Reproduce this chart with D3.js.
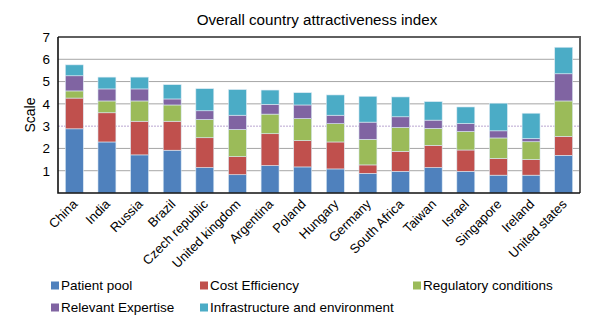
<!DOCTYPE html>
<html>
<head>
<meta charset="utf-8">
<script src="https://cdn.jsdelivr.net/npm/d3@7"></script>
<style>
  body { margin: 0; background: #fff; }
  text { font-family: "Liberation Sans", Arial, sans-serif; fill: #000; }
</style>
</head>
<body>
<div class="B"></div>
<script>
// data
var countries = ['China', 'India', 'Russia', 'Brazil', 'Czech republic', 'United kingdom', 'Argentina',
    'Poland', 'Hungary', 'Germany', 'South Africa', 'Taiwan', 'Israel', 'Singapore', 'Ireland', 'United states'];
var seriesNames = ['Patient pool', 'Cost Efficiency', 'Regulatory conditions', 'Relevant Expertise', 'Infrastructure and environment'];
var patientPool   = [2.88, 2.29, 1.71, 1.92, 1.14, 0.82, 1.23, 1.17, 1.08, 0.88, 0.97, 1.14, 0.97, 0.80, 0.80, 1.69];
var costEff       = [1.38, 1.31, 1.51, 1.30, 1.34, 0.81, 1.43, 1.18, 1.21, 0.38, 0.90, 1.00, 0.96, 0.75, 0.70, 0.85];
var regulatory    = [0.32, 0.53, 0.91, 0.73, 0.82, 1.22, 0.88, 0.99, 0.82, 1.15, 1.07, 0.76, 0.83, 0.92, 0.80, 1.59];
var expertise     = [0.68, 0.54, 0.54, 0.27, 0.39, 0.64, 0.44, 0.61, 0.38, 0.77, 0.48, 0.37, 0.36, 0.32, 0.14, 1.22];
var infra         = [0.49, 0.53, 0.53, 0.64, 0.99, 1.15, 0.64, 0.55, 0.91, 1.16, 0.89, 0.83, 0.74, 1.24, 1.14, 1.19];
var yTicks = [1, 2, 3, 4, 5, 6, 7];
var colors = ['#4F81BD', '#C0504D', '#9BBB59', '#8064A2', '#4BACC6'];

var width = 600, height = 325;
var plotL = 58, plotR = 580, plotT = 37, plotB = 193;

var svg = d3.select('.B').append('svg')
    .attr('width', width)
    .attr('height', height);

// 标题
svg.append('text')
    .text('Overall country attractiveness index')
    .attr('x', 317).attr('y', 25)
    .attr('text-anchor', 'middle')
    .style('font-size', '15.2px');

var x = d3.scaleBand().domain(countries).range([plotL, plotR]).paddingInner(0.45).paddingOuter(0.225);
var y = d3.scaleLinear().domain([0, 7]).range([plotB, plotT]);

// build rows for the stack
var allSeries = [patientPool, costEff, regulatory, expertise, infra];
var rows = countries.map(function (c, i) {
    var r = {country: c};
    seriesNames.forEach(function (s, k) { r[s] = allSeries[k][i]; });
    return r;
});
var stacked = d3.stack().keys(seriesNames)(rows);

// gridlines
svg.append('g').selectAll('line')
    .data(yTicks.slice(0, -1))
    .enter().append('line')
    .attr('x1', plotL).attr('x2', plotR)
    .attr('y1', function (d) { return y(d); })
    .attr('y2', function (d) { return y(d); })
    .style('stroke', function (d) { return d == 3 ? '#b9a6d0' : '#a6a6a6'; })
    .style('stroke-dasharray', function (d) { return d == 3 ? '2,1' : null; })
    .style('stroke-width', 1);

// bars
svg.append('g').selectAll('g')
    .data(stacked)
    .enter().append('g')
    .style('fill', function (d, i) { return colors[i]; })
    .selectAll('rect')
    .data(function (d) { return d; })
    .enter().append('rect')
    .attr('x', function (d) { return x(d.data.country); })
    .attr('width', x.bandwidth())
    .attr('y', function (d) { return y(d[1]); })
    .attr('height', function (d) { return y(d[0]) - y(d[1]); })
    .style('stroke', '#dbe9f3')
    .style('stroke-width', 0.6);

// frame: top/right grey, left/bottom black
svg.append('path')
    .attr('d', 'M' + plotL + ',' + plotT + 'H' + plotR + 'V' + plotB)
    .style('fill', 'none').style('stroke', '#5f5f5f').style('stroke-width', 2);
svg.append('path')
    .attr('d', 'M' + plotL + ',' + plotT + 'V' + plotB + 'H' + plotR)
    .style('fill', 'none').style('stroke', '#111').style('stroke-width', 1.6);

// y axis labels
var yAxis = svg.append('g')
    .attr('transform', 'translate(' + plotL + ',0)')
    .call(d3.axisLeft(y).tickValues(yTicks).tickFormat(d3.format('d')).tickSize(0).tickPadding(8));
yAxis.select('.domain').remove();
yAxis.selectAll('text').style('font-size', '13.5px').style('font-family', '"Liberation Sans", Arial, sans-serif');

svg.append('text')
    .text('Scale')
    .attr('transform', 'translate(35,' + ((plotT + plotB) / 2) + ') rotate(-90)')
    .attr('text-anchor', 'middle')
    .style('font-size', '14px');

// x axis labels, 45 degrees
svg.append('g').selectAll('text.xl')
    .data(countries)
    .enter().append('text')
    .attr('class', 'xl')
    .text(function (d) { return d; })
    .attr('text-anchor', 'end')
    .attr('transform', function (d) {
        return 'translate(' + (x(d) + x.bandwidth() / 2 + 4) + ',' + (plotB + 12) + ') rotate(-45)';
    })
    .style('font-size', '13px');

// legend
var legendPos = [[51, 290], [200, 290], [413, 290], [51, 312], [200, 312]];
var legend = svg.append('g').selectAll('g')
    .data(seriesNames)
    .enter().append('g')
    .attr('transform', function (d, i) { return 'translate(' + legendPos[i] + ')'; });
legend.append('rect')
    .attr('x', 0).attr('y', -8.5)
    .attr('width', 8).attr('height', 8)
    .style('fill', function (d, i) { return colors[i]; });
legend.append('text')
    .text(function (d) { return d; })
    .attr('x', 10).attr('y', 0)
    .style('font-size', '13.5px');
</script>
</body>
</html>
